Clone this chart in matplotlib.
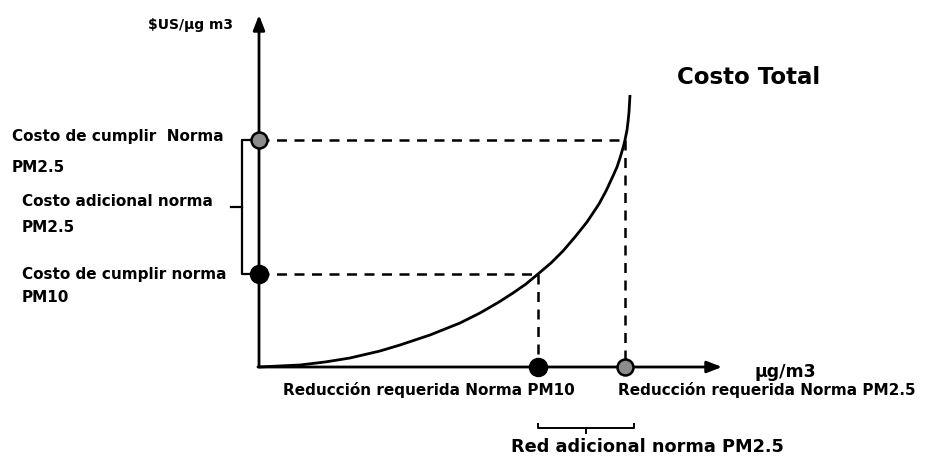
import matplotlib
matplotlib.use("Agg")
import matplotlib.pyplot as plt

# === Data ===
# reduction (x) and cost (y) along the total-cost curve
curve_x = [0, 20, 41, 66, 91, 121, 141, 171, 201, 221, 240, 254, 267, 279, 292, 304,
           316, 328, 334, 340, 347, 354, 358, 361, 364, 366, 368, 369, 370, 371]
curve_y = [0, 1, 2, 5, 9, 16, 22, 32, 44, 54, 65, 74, 83, 93, 104, 116,
           130, 145, 154, 163, 176, 191, 200, 209, 219, 227, 237, 245, 255, 272]

# norm points: required reduction and cost to comply
norm_names = ["PM10", "PM2.5"]
norm_reduction = [279, 366]
norm_cost = [93, 227]

x_axis_end = 463
y_axis_end = 352

y_label = "$US/µg m3"
x_label = "µg/m3"
curve_label = "Costo Total"
cost_labels = ["Costo de cumplir norma\nPM10", "Costo de cumplir  Norma\nPM2.5"]
extra_cost_label = "Costo adicional norma\nPM2.5"
reduction_labels = ["Reducción requerida Norma PM10", "Reducción requerida Norma PM2.5"]
extra_red_label = "Red adicional norma PM2.5"

# === Figure: one axes spanning the canvas, 1 data unit ~ 1 px ===
fig = plt.figure(figsize=(9.26, 4.62), dpi=100)
ax = fig.add_axes([0, 0, 1, 1])
ax.set_xlim(-259, 667)
ax.set_ylim(-95, 367)
ax.axis("off")

font = dict(family="DejaVu Sans", fontweight="bold", fontsize=11, color="black")

# axes with arrows
arrow = dict(arrowstyle="-|>,head_length=0.9,head_width=0.35", color="black", lw=2, shrinkA=0, shrinkB=0)
ax.annotate("", xy=(0, y_axis_end), xytext=(0, 0), arrowprops=arrow)
ax.annotate("", xy=(x_axis_end, 0), xytext=(-1, 0), arrowprops=arrow)

# total cost curve
ax.plot(curve_x, curve_y, color="black", lw=2, solid_capstyle="butt", solid_joinstyle="round")

# dashed guides
for xr, yc in zip(norm_reduction, norm_cost):
    ax.plot([0, xr], [yc, yc], color="black", lw=1.8, ls=(0, (4, 3)))
    ax.plot([xr, xr], [yc, 0], color="black", lw=1.8, ls=(0, (4, 3)))

# markers: PM10 solid black, PM2.5 grey textured
ax.plot([0, norm_reduction[0]], [norm_cost[0], 0], "o", ms=13, mfc="black", mec="black", zorder=5)
ax.plot([0, norm_reduction[1]], [norm_cost[1], 0], "o", ms=11.5, mfc="#8c8c8c", mec="black", mew=1.8, zorder=5)

# left bracket (additional cost)
bx = -17
ax.plot([-8, bx, bx, -8], [norm_cost[1], norm_cost[1], norm_cost[0], norm_cost[0]], color="black", lw=1.6)
mid_c = (norm_cost[0] + norm_cost[1]) / 2
ax.plot([bx, bx - 11], [mid_c, mid_c], color="black", lw=1.6)

# bottom bracket (additional reduction)
by = -61
ax.plot([norm_reduction[0], norm_reduction[0], norm_reduction[1] + 9, norm_reduction[1] + 9],
        [by + 4, by, by, by + 4], color="black", lw=1.4)
mid_r = (norm_reduction[0] + norm_reduction[1] + 9) / 2
ax.plot([mid_r, mid_r], [by, by - 5], color="black", lw=1.4)

# texts
ax.text(-26, 342, y_label, ha="right", va="center", **{**font, "fontsize": 10})
ax.text(496, -5, x_label, ha="left", va="center", **{**font, "fontsize": 12.5})
ax.text(418, 289, curve_label, ha="left", va="center", family="DejaVu Sans", fontweight="bold", fontsize=16.5)

ax.text(-247, norm_cost[1] + 3, cost_labels[1].split("\n")[0], ha="left", va="center", **font)
ax.text(-247, norm_cost[1] - 27, cost_labels[1].split("\n")[1], ha="left", va="center", **font)
ax.text(-237, mid_c + 6, extra_cost_label.split("\n")[0], ha="left", va="center", **font)
ax.text(-237, mid_c - 21, extra_cost_label.split("\n")[1], ha="left", va="center", **font)
ax.text(-237, norm_cost[0] - 1, cost_labels[0].split("\n")[0], ha="left", va="center", **font)
ax.text(-237, norm_cost[0] - 23, cost_labels[0].split("\n")[1], ha="left", va="center", **font)

ax.text(170, -23, reduction_labels[0], ha="center", va="center", **font)
ax.text(508, -23, reduction_labels[1], ha="center", va="center", **font)
ax.text(388, -80, extra_red_label, ha="center", va="center", family="DejaVu Sans", fontweight="bold", fontsize=12.8)

fig.savefig("out.png", dpi=100)
